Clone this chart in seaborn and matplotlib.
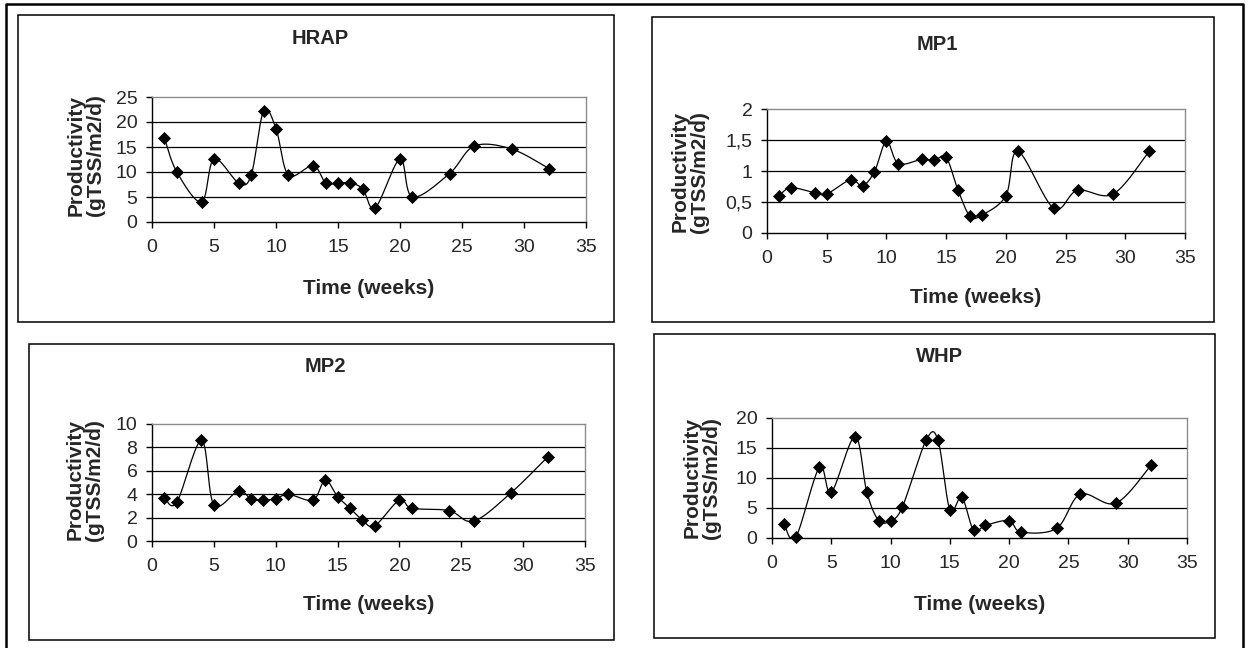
import numpy as np
import pandas as pd
import matplotlib
matplotlib.use("Agg")
import matplotlib.pyplot as plt
from matplotlib.patches import Rectangle
from matplotlib.lines import Line2D
import seaborn as sns

# datos
weeks = [1, 2, 4, 5, 7, 8, 9, 10, 11, 13, 14, 15, 16, 17, 18, 20, 21, 24, 26, 29, 32]
hrap = [16.8, 10.0, 4.0, 12.6, 7.8, 9.4, 22.2, 18.7, 9.4, 11.3, 7.8, 7.8, 7.8, 6.6, 2.8,
        12.6, 5.0, 9.7, 15.2, 14.6, 10.7]
mp1 = [0.60, 0.73, 0.65, 0.63, 0.86, 0.76, 0.99, 1.48, 1.12, 1.19, 1.17, 1.22, 0.69, 0.27,
       0.29, 0.60, 1.32, 0.40, 0.69, 0.63, 1.32]
mp2 = [3.7, 3.3, 8.6, 3.1, 4.3, 3.6, 3.5, 3.6, 4.0, 3.5, 5.2, 3.8, 2.8, 1.8, 1.3, 3.5, 2.8,
       2.6, 1.7, 4.1, 7.2]
whp = [2.4, 0.1, 11.8, 7.6, 16.9, 7.6, 2.9, 2.9, 5.2, 16.3, 16.3, 4.7, 6.8, 1.3, 2.1, 2.9,
       1.0, 1.6, 7.3, 5.8, 12.2]

W, H = 1248, 648

sns.set_style("white")
plt.rcParams['font.family'] = ['Liberation Sans', 'DejaVu Sans']


def suavizar(x, y, kx, ky, n=30):
    # curva suavizada tipo Excel (bezier con tangentes catmull-rom), en pixeles
    P = np.column_stack([np.asarray(x, float) * kx, np.asarray(y, float) * ky])
    out = []
    for i in range(len(P) - 1):
        p0 = P[i - 1] if i > 0 else P[i]
        p1, p2 = P[i], P[i + 1]
        p3 = P[i + 2] if i + 2 < len(P) else P[i + 1]
        c1 = p1 + (p2 - p0) / 6
        c2 = p2 - (p3 - p1) / 6
        t = np.linspace(0, 1, n)[:, None]
        seg = (1 - t) ** 3 * p1 + 3 * (1 - t) ** 2 * t * c1 + 3 * (1 - t) * t ** 2 * c2 + t ** 3 * p2
        out.append(seg if i == 0 else seg[1:])
    out = np.vstack(out)
    return out[:, 0] / kx, out[:, 1] / ky


def px2fig(l, t, r, b):
    return [l / W, 1 - b / H, (r - l) / W, (b - t) / H]


fig = plt.figure(figsize=(W / 100, H / 100), dpi=100)

# marco exterior
fig.add_artist(Line2D([6 / W, 6 / W, 1243 / W, 1243 / W], [0, 1 - 4 / H, 1 - 4 / H, 0],
                      color='black', lw=1.8, transform=fig.transFigure))

paneles = [
    # titulo, valores, ymax, paso, caja, area, pos titulo, pos ylabel, y xlabel
    ("HRAP", hrap, 25, 5, (18, 15, 614, 322), (152, 97, 586, 222), (320, 38), (86, 155), 288),
    ("MP1", mp1, 2, 0.5, (652, 17, 1214, 322), (767, 109, 1185, 233), (937, 44), (690, 172), 298),
    ("MP2", mp2, 10, 2, (29, 344, 614, 640), (152, 424, 585, 541), (325, 367), (85, 480), 604),
    ("WHP", whp, 20, 5, (654, 334, 1215, 638), (772, 418, 1187, 538), (940, 357), (702, 478), 604),
]

for titulo, vals, ymax, paso, caja, area, tpos, ypos, xly in paneles:
    l, t, r, b = caja
    fig.add_artist(Rectangle((l / W, 1 - b / H), (r - l) / W, (b - t) / H, fill=False,
                             edgecolor='black', lw=1.1, transform=fig.transFigure))
    ax = fig.add_axes(px2fig(*area))
    df = pd.DataFrame({"Time (weeks)": weeks, "Productivity": vals})
    aw = area[2] - area[0]
    ah = area[3] - area[1]
    sx, sy = suavizar(weeks, vals, aw / 35, ah / ymax)
    curva = pd.DataFrame({"x": sx, "y": sy})
    sns.lineplot(data=curva, x="x", y="y", sort=False, estimator=None, color='black',
                 lw=0.9, ax=ax)
    sns.scatterplot(data=df, x="Time (weeks)", y="Productivity", marker='D', s=38,
                    color='black', edgecolor='black', linewidth=0.5, zorder=5, ax=ax,
                    clip_on=False)
    ax.set_xlim(0, 35)
    ax.set_ylim(0, ymax)
    ax.set_xticks(np.arange(0, 36, 5))
    yt = np.arange(0, ymax + paso / 2, paso)
    ax.set_yticks(yt)
    ax.set_yticklabels([("%g" % v).replace('.', ',') for v in yt])
    for v in yt[1:-1]:
        ax.axhline(v, color='black', lw=0.9, zorder=1)
    for s in ['top', 'right']:
        ax.spines[s].set_color('#8c8c8c')
        ax.spines[s].set_linewidth(1.0)
    for s in ['left', 'bottom']:
        ax.spines[s].set_color('black')
        ax.spines[s].set_linewidth(1.0)
    ax.tick_params(axis='both', direction='out', length=4.5, width=1, color='black',
                   labelsize=14, bottom=True, left=True)
    ax.tick_params(axis='x', pad=8)
    ax.tick_params(axis='y', pad=6)
    ax.set_xlabel("Time (weeks)", fontsize=15, fontweight='bold')
    ax.set_ylabel("Productivity\n(gTSS/m2/d)", fontsize=15, fontweight='bold',
                  linespacing=1.05)
    ax.set_facecolor('white')
    # posiciones de las etiquetas en pixeles
    ax.xaxis.set_label_coords(0.5, (area[3] - xly) / ah)
    ax.xaxis.label.set_va('center')
    ax.yaxis.set_label_coords((ypos[0] - area[0]) / aw, (area[3] - ypos[1]) / ah)
    ax.yaxis.label.set_va('center')
    fig.text(tpos[0] / W, 1 - tpos[1] / H, titulo, fontsize=14.5, fontweight='bold',
             ha='center', va='center')

fig.savefig("out.png", dpi=100, facecolor='white')
